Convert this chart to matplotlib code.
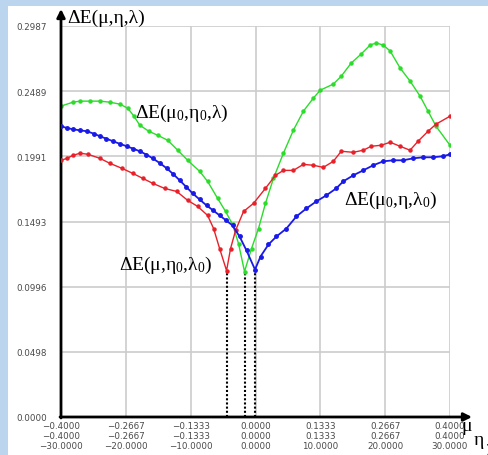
import numpy as np
import matplotlib
matplotlib.use("Agg")
import matplotlib.pyplot as plt
from matplotlib.patches import Rectangle

verde_x = [-0.4, -0.3754, -0.361, -0.3405, -0.32, -0.2995, -0.279, -0.2626, -0.250, -0.238,
           -0.2195, -0.201, -0.1805, -0.160, -0.1395, -0.1149, -0.0985, -0.0779, -0.0615,
           -0.0472, -0.0349, -0.0226, -0.0082, 0.0062, 0.0205, 0.0369, 0.0574, 0.0779,
           0.0985, 0.119, 0.1333, 0.16, 0.1764, 0.1969, 0.2174, 0.2359, 0.2482, 0.2626,
           0.2769, 0.2974, 0.3179, 0.3385, 0.3549, 0.3713, 0.4]
verde_y = [0.2375, 0.2405, 0.2413, 0.2413, 0.2413, 0.2405, 0.2390, 0.2359, 0.2298, 0.2229,
           0.2183, 0.2152, 0.2114, 0.2038, 0.1961, 0.1877, 0.1800, 0.1670, 0.1570,
           0.1471, 0.1325, 0.1111, 0.1287, 0.1440, 0.1632, 0.1823, 0.2015, 0.2191,
           0.2336, 0.2436, 0.2497, 0.2543, 0.2604, 0.2704, 0.2773, 0.2842, 0.2857, 0.2842,
           0.2796, 0.2666, 0.2566, 0.2451, 0.2336, 0.2221, 0.2076]

rojo_x = [-0.4, -0.3877, -0.3754, -0.361, -0.3446, -0.32, -0.2995, -0.2749, -0.2523, -0.2318,
          -0.2113, -0.1867, -0.162, -0.1395, -0.119, -0.0985, -0.0862, -0.0738, -0.0595,
          -0.0513, -0.041, -0.0246, -0.0041, 0.0205, 0.041, 0.0574, 0.0779, 0.0985, 0.119,
          0.1395, 0.16, 0.1764, 0.201, 0.2215, 0.2379, 0.2585, 0.2769, 0.2974, 0.3179,
          0.3344, 0.3549, 0.3713, 0.4]
rojo_y = [0.1961, 0.1976, 0.1999, 0.2015, 0.2007, 0.1976, 0.1938, 0.1900, 0.1861, 0.1823,
          0.1785, 0.1746, 0.1723, 0.1655, 0.1609, 0.1540, 0.1440, 0.1287, 0.1118,
          0.1287, 0.1425, 0.1570, 0.1632, 0.1747, 0.1846, 0.1884, 0.1884, 0.1930, 0.1923,
          0.1907, 0.1953, 0.2030, 0.2022, 0.2038, 0.2068, 0.2076, 0.2099, 0.2068, 0.2038,
          0.2107, 0.2183, 0.2237, 0.2298]

azul_x = [-0.4, -0.3877, -0.3754, -0.361, -0.3467, -0.333, -0.32, -0.3067, -0.2933, -0.279,
          -0.2646, -0.251, -0.2379, -0.2246, -0.2113, -0.197, -0.1826, -0.169, -0.1559,
          -0.1425, -0.1292, -0.115, -0.1005, -0.087, -0.0738, -0.0605, -0.0472, -0.0328,
          -0.0185, -0.001, 0.0103, 0.0267, 0.0431, 0.0636, 0.0841, 0.1046, 0.1251, 0.1456,
          0.1662, 0.1805, 0.201, 0.2215, 0.2421, 0.2626, 0.2831, 0.3036, 0.3241, 0.3446,
          0.3651, 0.3856, 0.4]
azul_y = [0.2221, 0.2208, 0.2198, 0.2190, 0.2183, 0.2165, 0.2145, 0.2126, 0.2107, 0.2087,
          0.2068, 0.2049, 0.2030, 0.2005, 0.1976, 0.1940, 0.1900, 0.1855, 0.1808,
          0.1758, 0.1708, 0.1662, 0.1616, 0.1578, 0.1540, 0.1502, 0.1463, 0.1379,
          0.1272, 0.1126, 0.1226, 0.1318, 0.1379, 0.1440, 0.1532, 0.1593, 0.1647, 0.1693,
          0.1747, 0.1800, 0.1846, 0.1884, 0.1923, 0.1953, 0.1961, 0.1961, 0.1976, 0.1984,
          0.1984, 0.1992, 0.2007]

xtks = [-0.4, -0.2667, -0.1333, 0.0, 0.1333, 0.2667, 0.4]
mu_lbl = ['-0.4000', '-0.2667', '-0.1333', '0.0000', '0.1333', '0.2667', '0.4000']
eta_lbl = ['-0.4000', '-0.2667', '-0.1333', '0.0000', '0.1333', '0.2667', '0.4000']
lam_lbl = ['-30.0000', '-20.0000', '-10.0000', '0.0000', '10.0000', '20.0000', '30.0000']
ytks = [0.0, 0.0498, 0.0996, 0.1493, 0.1991, 0.2489, 0.2987]
ytks_lbl = ['0.0000', '0.0498', '0.0996', '0.1493', '0.1991', '0.2489', '0.2987']

plt.rcParams['mathtext.fontset'] = 'custom'
plt.rcParams['mathtext.rm'] = 'Liberation Serif'
plt.rcParams['mathtext.it'] = 'Liberation Serif'

W, H = 488, 456
fig = plt.figure(figsize=(W / 100, H / 100), dpi=100, facecolor='#bcd5ee')
fig.patches.append(Rectangle((8 / W, 0), 1, 1 - 7 / H, transform=fig.transFigure,
                             facecolor='white', edgecolor='none', zorder=-10))

def px(x, y):
    return x / W, 1 - y / H

x0, x1, y0, y1 = 61, 450, 418, 27
ax = fig.add_axes([x0 / W, 1 - y0 / H, (x1 - x0) / W, (y0 - y1) / H])
ax.set_facecolor('none')
ax.set_xlim(-0.4, 0.4)
ax.set_ylim(0, 0.2987)

for s in ax.spines.values():
    s.set_visible(False)

ax.set_xticks(xtks)
ax.set_xticklabels([a.replace('-', '\u2212') + '\n' + b.replace('-', '\u2212') + '\n' + c.replace('-', '\u2212')
                    for a, b, c in zip(mu_lbl, eta_lbl, lam_lbl)],
                   fontsize=6.3, color='#4a4a4a', linespacing=1.15)
ax.set_yticks(ytks)
ax.set_yticklabels(ytks_lbl, fontsize=6.3, color='#4a4a4a', ha='left')
ax.tick_params(axis='both', length=0)
ax.tick_params(axis='x', pad=3)
ax.tick_params(axis='y', pad=32)
ax.grid(True, color='#cccccc', linewidth=1.2)
ax.set_axisbelow(True)

# lineas punteadas hasta los minimos
for xs, ys in [(rojo_x, rojo_y), (verde_x, verde_y), (azul_x, azul_y)]:
    i = int(np.argmin(ys))
    ax.plot([xs[i], xs[i]], [0, ys[i]], color='black', linestyle=(0, (1, 1)), linewidth=1.5, zorder=2)

ax.plot(verde_x, verde_y, '-o', color='#2bdc2b', linewidth=1.0, markersize=2.2, zorder=3)
ax.plot(rojo_x, rojo_y, '-o', color='#e8202a', linewidth=1.0, markersize=2.2, zorder=4)
ax.plot(azul_x, azul_y, '-o', color='#1a1ae8', linewidth=1.3, markersize=2.5, zorder=5)

# ejes con flechas
ax.annotate('', xy=px(472, 418), xytext=px(60, 418), xycoords='figure fraction',
            arrowprops=dict(arrowstyle='-|>', color='black', lw=2, mutation_scale=12,
                            shrinkA=0, shrinkB=0))
ax.annotate('', xy=px(61, 10), xytext=px(61, 419), xycoords='figure fraction',
            arrowprops=dict(arrowstyle='-|>', color='black', lw=2, mutation_scale=12,
                            shrinkA=0, shrinkB=0))

tf = dict(family='Liberation Serif', fontsize=14, color='black')
fig.text(*px(67, 18), 'ΔE(μ,η,λ)', ha='left', va='center', **tf)
fig.text(*px(182, 113), 'ΔE(μ$_0$,η$_0$,λ)', ha='center', va='center', **tf)
fig.text(*px(391, 200), 'ΔE(μ$_0$,η,λ$_0$)', ha='center', va='center', **tf)
fig.text(*px(166, 265), 'ΔE(μ,η$_0$,λ$_0$)', ha='center', va='center', **tf)
fig.text(*px(467, 427), 'μ', ha='center', va='center', **tf)
fig.text(*px(479, 441), 'η', ha='center', va='center', **tf)
fig.text(*px(490, 453), 'λ', ha='center', va='center', **tf)

plt.savefig('out.png', dpi=100, facecolor=fig.get_facecolor())
